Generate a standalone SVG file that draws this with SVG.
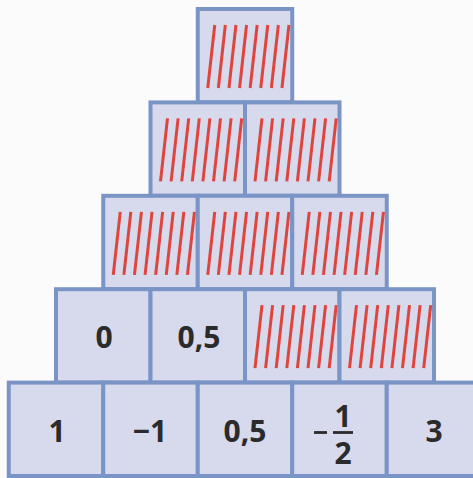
<svg xmlns="http://www.w3.org/2000/svg" xmlns:xlink="http://www.w3.org/1999/xlink" width="473" height="478" viewBox="0 0 473 478">
<style>
.box{fill:#d7d9ed;stroke:#7b94c6;stroke-width:4}
.h line{stroke:#e0453d;stroke-width:3;stroke-linecap:butt}
.t{font-family:"Open Sans","Liberation Sans",sans-serif;font-weight:bold;font-size:30px;fill:#2b2b2b;text-anchor:middle}
.bar{stroke:#2b2b2b;stroke-width:2.8}
</style>
<defs>
<g id="hatch" class="h">
<line x1="17" y1="16" x2="10" y2="79"/>
<line x1="27.6" y1="16" x2="20.6" y2="79"/>
<line x1="38.2" y1="16" x2="31.2" y2="79"/>
<line x1="48.8" y1="16" x2="41.8" y2="79"/>
<line x1="59.4" y1="16" x2="52.4" y2="79"/>
<line x1="70" y1="16" x2="63" y2="79"/>
<line x1="80.6" y1="16" x2="73.6" y2="79"/>
<line x1="91.2" y1="16" x2="84.2" y2="79"/>
</g>
</defs>
<rect width="473" height="478" fill="#fbfbfb"/>
<!-- Row 1 -->
<g id="r1b1"><rect class="box" x="197.75" y="9" width="94.5" height="93.4"/><use xlink:href="#hatch" x="197.75" y="9"/></g>
<!-- Row 2 -->
<g id="r2b1"><rect class="box" x="150.5" y="102.4" width="94.5" height="93.4"/><use xlink:href="#hatch" x="150.5" y="102.4"/></g>
<g id="r2b2"><rect class="box" x="245" y="102.4" width="94.5" height="93.4"/><use xlink:href="#hatch" x="245" y="102.4"/></g>
<!-- Row 3 -->
<g id="r3b1"><rect class="box" x="103.25" y="195.8" width="94.5" height="93.4"/><use xlink:href="#hatch" x="103.25" y="195.8"/></g>
<g id="r3b2"><rect class="box" x="197.75" y="195.8" width="94.5" height="93.4"/><use xlink:href="#hatch" x="197.75" y="195.8"/></g>
<g id="r3b3"><rect class="box" x="292.25" y="195.8" width="94.5" height="93.4"/><use xlink:href="#hatch" x="292.25" y="195.8"/></g>
<!-- Row 4 -->
<g id="r4b1"><rect class="box" x="56" y="289.2" width="94.5" height="93.4"/><text class="t" x="104" y="348">0</text></g>
<g id="r4b2"><rect class="box" x="150.5" y="289.2" width="94.5" height="93.4"/><text class="t" x="199" y="348">0,5</text></g>
<g id="r4b3"><rect class="box" x="245" y="289.2" width="94.5" height="93.4"/><use xlink:href="#hatch" x="245" y="289.2"/></g>
<g id="r4b4"><rect class="box" x="339.5" y="289.2" width="94.5" height="93.4"/><use xlink:href="#hatch" x="339.5" y="289.2"/></g>
<!-- Row 5 -->
<g id="r5b1"><rect class="box" x="8.75" y="382.6" width="94.5" height="93.4"/><text class="t" x="57" y="442">1</text></g>
<g id="r5b2"><rect class="box" x="103.25" y="382.6" width="94.5" height="93.4"/><text class="t" x="150" y="442">−1</text></g>
<g id="r5b3"><rect class="box" x="197.75" y="382.6" width="94.5" height="93.4"/><text class="t" x="245" y="442">0,5</text></g>
<g id="r5b4"><rect class="box" x="292.25" y="382.6" width="94.5" height="93.4"/>
<line class="bar" x1="314" y1="432.5" x2="327" y2="432.5"/>
<text class="t" x="343" y="427">1</text>
<line class="bar" x1="333" y1="432.5" x2="353" y2="432.5"/>
<text class="t" x="343" y="464">2</text></g>
<g id="r5b5"><rect class="box" x="386.75" y="382.6" width="94.5" height="93.4"/><text class="t" x="434" y="442">3</text></g>
</svg>
